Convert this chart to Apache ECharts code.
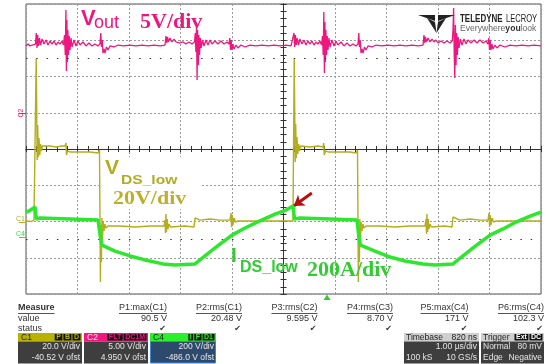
<!DOCTYPE html>
<html>
<head>
<meta charset="utf-8">
<script src="https://cdn.jsdelivr.net/npm/echarts@6/dist/echarts.min.js"></script>
<style>
html, body { margin: 0; padding: 0; background: #fff; }
#scope { width: 553px; height: 364px; }
</style>
</head>
<body>
<div id="scope"></div>
<script>
// time in µs (1 µs/div), values in channel units
var vdsTrace = [[0,0.8],[0.097,0.5],[0.155,1.3],[0.184,0.8],[0.198,90.5],[0.208,62.0],[0.217,34.5],[0.227,53.8],[0.239,36.1],[0.252,46.6],[0.268,37.2],[0.283,43.3],[0.301,39.4],[0.320,42.2],[0.350,41.1],[0.466,42.2],[0.583,41.6],[0.699,42.2],[0.757,42.2],[0.777,43.8],[0.786,37.2],[0.806,39.4],[0.854,38.9],[1.049,38.9],[1.243,38.9],[1.398,38.3],[1.427,40.0],[1.445,-32.9],[1.454,-1.4],[1.464,-21.8],[1.474,2.5],[1.485,-9.7],[1.499,0.2],[1.515,-4.7],[1.534,-0.9],[1.553,-3.1],[1.592,-2.0],[1.825,-2.0],[2.117,-2.5],[2.408,-2.0],[2.680,-2.0],[2.699,1.3],[2.709,-5.8],[2.718,4.6],[2.728,-5.3],[2.742,1.9],[2.757,-3.6],[2.777,-0.9],[2.806,-2.5],[2.835,-2.0],[3.087,-2.0],[3.262,-2.5],[3.282,2.5],[3.301,1.9],[3.379,1.3],[3.573,1.9],[3.767,1.3],[3.961,1.3],[3.981,5.2],[3.992,-2.5],[4.004,4.1],[4.019,-1.4],[4.039,2.5],[4.068,0.2],[4.117,0.8],[4.350,0.8],[4.641,0.8],[4.932,0.8],[5.184,0.8],[5.208,90.5],[5.218,61.0],[5.227,33.4],[5.237,54.3],[5.249,35.6],[5.262,47.1],[5.278,37.8],[5.293,43.3],[5.311,39.4],[5.330,42.2],[5.359,41.1],[5.515,41.6],[5.670,42.2],[5.767,41.6],[5.781,43.8],[5.792,37.2],[5.816,39.4],[5.864,38.9],[6.097,38.9],[6.291,38.9],[6.408,38.3],[6.437,40.0],[6.454,-32.9],[6.464,-2.0],[6.474,-21.8],[6.483,1.9],[6.495,-9.7],[6.509,0.2],[6.524,-4.7],[6.544,-0.9],[6.563,-3.1],[6.602,-2.0],[6.874,-2.0],[7.165,-2.5],[7.456,-2.0],[7.748,-2.0],[7.767,1.9],[7.777,-6.4],[7.786,4.6],[7.798,-5.3],[7.812,1.9],[7.825,-3.6],[7.845,-0.9],[7.874,-2.5],[7.903,-2.0],[8.136,-2.0],[8.272,-2.5],[8.291,3.0],[8.311,1.9],[8.427,1.3],[8.621,1.9],[8.816,1.3],[8.971,1.3],[8.990,5.2],[9.002,-2.5],[9.013,4.1],[9.029,-1.4],[9.049,2.5],[9.078,0.2],[9.126,0.8],[9.398,0.8],[9.689,0.8],[10.0,0.8]];

var voutTrace = [[0.000,9.26],[0.039,9.53],[0.078,9.26],[0.117,9.39],[0.155,9.12],[0.184,9.53],[0.200,11.05],[0.214,8.98],[0.227,10.77],[0.243,9.26],[0.262,10.36],[0.282,9.39],[0.311,10.22],[0.350,9.53],[0.388,10.08],[0.427,9.39],[0.466,9.95],[0.505,9.53],[0.544,9.95],[0.583,9.39],[0.621,9.81],[0.660,9.53],[0.699,9.95],[0.728,9.39],[0.748,10.77],[0.763,8.02],[0.775,14.22],[0.784,5.81],[0.794,12.84],[0.804,7.05],[0.813,11.46],[0.825,8.02],[0.839,10.64],[0.854,8.71],[0.874,10.36],[0.893,9.12],[0.932,10.08],[0.971,9.26],[1.010,9.95],[1.049,9.39],[1.107,9.81],[1.165,9.26],[1.223,9.67],[1.282,9.26],[1.340,9.53],[1.398,9.26],[1.437,9.53],[1.452,11.05],[1.466,9.12],[1.480,10.08],[1.495,8.29],[1.515,8.84],[1.534,8.29],[1.563,9.12],[1.592,8.71],[1.631,9.26],[1.709,9.12],[1.786,9.39],[1.903,9.26],[2.019,9.39],[2.136,9.26],[2.252,9.39],[2.369,9.26],[2.485,9.39],[2.602,9.26],[2.699,9.39],[2.718,10.64],[2.734,9.67],[2.748,10.50],[2.767,9.81],[2.796,10.36],[2.835,9.81],[2.874,10.22],[2.913,9.81],[2.951,10.08],[2.990,9.67],[3.049,9.81],[3.107,9.53],[3.165,9.81],[3.223,9.53],[3.272,9.81],[3.287,11.05],[3.299,8.43],[3.311,11.88],[3.322,4.57],[3.332,11.46],[3.346,6.64],[3.357,10.77],[3.369,8.02],[3.385,10.36],[3.402,8.98],[3.427,10.08],[3.456,9.26],[3.495,10.08],[3.534,9.39],[3.573,10.08],[3.612,9.53],[3.670,9.95],[3.728,9.53],[3.786,9.95],[3.845,9.53],[3.903,9.81],[3.942,9.53],[3.957,10.36],[3.971,8.71],[3.984,10.08],[4.000,8.71],[4.019,9.53],[4.039,8.84],[4.078,9.39],[4.117,8.98],[4.175,9.39],[4.252,9.12],[4.350,9.39],[4.466,9.26],[4.583,9.39],[4.699,9.26],[4.816,9.39],[4.932,9.26],[5.049,9.39],[5.146,9.26],[5.184,9.53],[5.204,11.05],[5.217,9.12],[5.231,10.77],[5.247,9.39],[5.266,10.36],[5.291,9.39],[5.320,10.22],[5.359,9.53],[5.398,10.08],[5.437,9.39],[5.476,9.95],[5.515,9.53],[5.553,9.95],[5.592,9.39],[5.631,9.81],[5.670,9.53],[5.709,9.95],[5.738,9.39],[5.757,10.64],[5.771,8.02],[5.783,13.95],[5.794,5.53],[5.804,12.57],[5.814,7.05],[5.823,11.46],[5.835,8.02],[5.849,10.64],[5.864,8.71],[5.883,10.36],[5.903,9.12],[5.942,10.08],[5.981,9.26],[6.019,9.95],[6.058,9.39],[6.117,9.81],[6.175,9.26],[6.233,9.67],[6.291,9.26],[6.350,9.53],[6.408,9.26],[6.447,9.53],[6.462,11.05],[6.476,9.12],[6.489,10.08],[6.505,8.29],[6.524,8.84],[6.544,8.29],[6.573,9.12],[6.602,8.71],[6.641,9.26],[6.718,9.12],[6.796,9.39],[6.913,9.26],[7.029,9.39],[7.146,9.26],[7.262,9.39],[7.379,9.26],[7.495,9.39],[7.612,9.26],[7.709,9.39],[7.728,10.77],[7.744,9.67],[7.757,10.50],[7.777,9.81],[7.806,10.36],[7.845,9.81],[7.884,10.22],[7.922,9.81],[7.961,10.08],[8.000,9.67],[8.058,9.95],[8.117,9.67],[8.175,9.95],[8.233,9.67],[8.277,9.95],[8.291,11.46],[8.303,14.50],[8.315,8.02],[8.326,4.84],[8.338,12.15],[8.350,6.64],[8.363,11.05],[8.377,8.02],[8.392,10.50],[8.408,8.98],[8.437,10.22],[8.466,9.39],[8.505,10.22],[8.544,9.53],[8.583,10.08],[8.641,9.67],[8.699,10.08],[8.757,9.67],[8.816,10.08],[8.874,9.67],[8.932,9.95],[8.971,9.53],[8.986,10.36],[9.000,8.71],[9.013,10.08],[9.029,8.71],[9.049,9.53],[9.068,8.84],[9.107,9.39],[9.146,8.98],[9.204,9.39],[9.301,9.12],[9.398,9.39],[9.515,9.26],[9.631,9.39],[9.748,9.26],[9.864,9.39],[10.000,9.26]];

var idsTrace = [[0.000,138],[0.058,144],[0.117,155],[0.175,166],[0.190,167],[0.200,100],[0.272,105],[0.854,100],[1.398,94],[1.427,94],[1.447,-5],[1.476,-44],[1.495,-49],[1.728,-77],[2.019,-104],[2.311,-126],[2.660,-148],[2.893,-154],[3.282,-148],[3.476,-104],[3.670,-60],[3.845,-22],[4.000,11],[4.252,50],[4.544,89],[4.835,127],[5.049,149],[5.184,171],[5.200,171],[5.214,100],[5.320,105],[5.903,100],[6.427,94],[6.447,94],[6.466,-5],[6.495,-44],[6.524,-49],[6.777,-77],[7.068,-110],[7.359,-132],[7.709,-148],[7.942,-154],[8.291,-148],[8.485,-104],[8.680,-60],[8.854,-22],[9.010,11],[9.262,45],[9.515,83],[9.786,116],[10.000,138]];

// channel settings: volts per div and offset
var chanNames = ['C1', 'C2', 'C4'];
var chanPerDiv = [20, 5, 200];
var chanOffset = [-40.52, 4.95, -486.0];
var chanScaleText = ['20.0 V/div', '5.00 V/div', '200 V/div'];
var chanOffsetText = ['-40.52 V ofst', '4.950 V ofst', '-486.0 V ofst'];
var chanBadges = [['P', 'B', 'D'], ['FLT', 'DC1M'], ['I', 'F', 'D1']];

var measureNames = ['P1:max(C1)', 'P2:rms(C1)', 'P3:rms(C2)', 'P4:rms(C3)', 'P5:max(C4)', 'P6:rms(C4)'];
var measureValues = ['90.5 V', '20.48 V', '9.595 V', '8.70 V', '171 V', '102.3 V'];

var timebaseRows = [['Timebase', '820 ns'], ['', '1.00 µs/div'], ['100 kS', '10 GS/s']];
var triggerRows = [['Trigger', ''], ['Normal', '80 mV'], ['Edge', 'Negative']];
var triggerBadges = ['Ext', 'DC'];

// dotted guide rows, in divisions from centre
var guideRows = [2.5, -2.5];

// pointer arrow near the current peak (time µs, amps)
var arrowFrom = [5.55, 243];
var arrowTo = [5.20, 172];

var chart = echarts.init(document.getElementById('scope'), null, { renderer: 'canvas' });

var PINK = '#ee167f', OLIVE = '#b3ad1f', GREEN = '#2ee62e';
var FONT = '"Liberation Sans", Arial, sans-serif';
var SERIF = '"Liberation Serif", "Times New Roman", serif';

function chanAxis(i, color, rotate) {
    var lo = -chanOffset[i] - 4 * chanPerDiv[i];
    var hi = -chanOffset[i] + 4 * chanPerDiv[i];
    return {
        type: 'value', min: lo, max: hi, position: 'left',
        axisLine: { show: false, onZero: false },
        splitLine: { show: false },
        axisTick: { show: true, customValues: [0], length: 7, lineStyle: { color: color, width: 1 } },
        axisLabel: {
            show: true, customValues: [0], margin: 1, rotate: rotate,
            formatter: function () { return chanNames[i]; },
            color: color, fontSize: 7, fontFamily: FONT, verticalAlign: 'bottom'
        }
    };
}

var tickStyle = { color: '#333', width: 1 };
function centreX(pos) {
    return {
        type: 'value', min: -5, max: 5, interval: 1, position: pos,
        axisLine: { show: true, onZero: true, onZeroAxisIndex: 0, lineStyle: tickStyle },
        axisTick: { show: true, length: 3, lineStyle: tickStyle },
        minorTick: { show: true, splitNumber: 5, length: 3, lineStyle: tickStyle },
        axisLabel: { show: false },
        splitLine: { show: pos === 'bottom', lineStyle: { color: '#9a9a9a', type: [2, 2], width: 1 } }
    };
}
function centreY(pos) {
    return {
        type: 'value', min: -4, max: 4, interval: 1, position: pos,
        axisLine: { show: true, onZero: true, onZeroAxisIndex: 0, lineStyle: tickStyle },
        axisTick: { show: true, length: 3, lineStyle: tickStyle },
        minorTick: { show: true, splitNumber: 5, length: 3, lineStyle: tickStyle },
        axisLabel: { show: false },
        splitLine: { show: pos === 'left', lineStyle: { color: '#9a9a9a', type: [2, 2], width: 1 } }
    };
}

// ---- decorations: labels, logo, measurement table, channel boxes
var ctx = document.createElement('canvas').getContext('2d');
function textW(s, font) { ctx.font = font; return ctx.measureText(s).width; }

var g = [];
function txt(x, y, s, font, fill, align, extra) {
    var e = {
        type: 'text', x: x, y: y, z: 20,
        style: { text: s, x: 0, y: 0, font: font, fill: fill, textAlign: align || 'left', align: align || 'left', textVerticalAlign: 'middle', verticalAlign: 'middle' }
    };
    if (extra) { for (var k in extra) e[k] = extra[k]; }
    g.push(e);
}
function rect(x, y, w, h, fill, stroke, z) {
    g.push({ type: 'rect', z: z || 15, shape: { x: x, y: y, width: w, height: h }, style: { fill: fill, stroke: stroke || null, lineWidth: 1 } });
}
function line(x1, y1, x2, y2, color, z) {
    g.push({ type: 'line', z: z || 15, shape: { x1: x1, y1: y1, x2: x2, y2: y2 }, style: { stroke: color, lineWidth: 1 } });
}

// trace labels
txt(81, 19, 'V', 'bold 22px ' + FONT, PINK);
txt(94, 23, 'out', '18px ' + FONT, PINK);
txt(140, 22.5, '5V/div', 'bold 22px ' + SERIF, PINK);

rect(101, 157, 99, 52, '#ffffff', null, 1);
txt(105, 168, 'V', 'bold 21px ' + FONT, OLIVE);
txt(121, 181, 'DS_low', 'bold 12px ' + FONT, OLIVE, 'left', { scaleX: 1.3 });
txt(113, 199, '20V/div', 'bold 18px ' + SERIF, '#bcb028', 'left', { scaleX: 1.22 });

txt(231, 256, 'I', 'bold 21px ' + FONT, '#30cc30');
txt(240, 267.5, 'DS_low', 'bold 16px ' + FONT, '#30cc30');
txt(307, 270.5, '200A/div', 'bold 22px ' + SERIF, '#30cc30');

// logo
g.push({ type: 'polygon', z: 20, shape: { points: [[418, 15], [435, 15], [435, 21]] }, style: { fill: '#222' } });
g.push({ type: 'polygon', z: 20, shape: { points: [[455, 15], [438, 15], [438, 21]] }, style: { fill: '#222' } });
g.push({ type: 'polygon', z: 20, shape: { points: [[427, 18], [435, 22], [436.5, 33]] }, style: { fill: '#222' } });
g.push({ type: 'polygon', z: 20, shape: { points: [[446, 18], [438, 22], [436.5, 33]] }, style: { fill: '#222' } });
txt(460, 19, 'TELEDYNE', 'bold 10.5px ' + FONT, '#222', 'left', { scaleX: 0.76 });
txt(506, 19, 'LECROY', '10.5px ' + FONT, '#222', 'left', { scaleX: 0.72 });
g.push({
    type: 'text', x: 460, y: 28.5, z: 20,
    style: {
        text: '{a|Everywhere}{b|you}{a|look}', x: 0, y: 0, verticalAlign: 'middle', textVerticalAlign: 'middle',
        rich: { a: { font: '8.6px ' + FONT, fill: '#666', color: '#666' }, b: { font: 'bold 8.6px ' + FONT, fill: '#333', color: '#333' } }
    }
});

// trigger position marker
g.push({ type: 'polygon', z: 20, shape: { points: [[323.5, 300], [327, 294.5], [330.5, 300]] }, style: { fill: '#2ecc2e' } });

// measurement table
var F9 = '9px ' + FONT;
var colRight = [167, 242, 317.5, 393, 468.5, 544];
txt(18, 307.5, 'Measure', 'bold 9px ' + FONT, '#333');
line(18, 313.5, 18 + textW('Measure', 'bold 9px ' + FONT), 313.5, '#555');
txt(18, 318.5, 'value', F9, '#333');
txt(18, 328.5, 'status', F9, '#333');
for (var i = 0; i < measureNames.length; i++) {
    txt(colRight[i], 307.5, measureNames[i], F9, '#333', 'right');
    line(colRight[i] - textW(measureNames[i], F9), 313.5, colRight[i], 313.5, '#555');
    txt(colRight[i], 318.5, measureValues[i], F9, '#333', 'right');
    txt(colRight[i] - 1, 328.5, '\u2714', '8px "DejaVu Sans"', '#333', 'right');
}

// channel boxes
var boxX = [18, 84, 150], boxW = [64, 64, 66];
var headCol = ['#b8b200', '#f0177f', '#2af02a'];
var headText = ['#222', '#fde', '#222'];
var BOX_Y = 333, HEAD_H = 8.5, BODY_H = 22;
var F8 = '8.5px ' + FONT;
for (var c = 0; c < 3; c++) {
    var x0 = boxX[c], w0 = boxW[c];
    rect(x0, BOX_Y, w0, HEAD_H, headCol[c]);
    if (c === 2) rect(x0 + 0.5, BOX_Y + HEAD_H, w0 - 1, BODY_H - 0.5, '#2d4a6c', '#3f86d8');
    else rect(x0, BOX_Y + HEAD_H, w0, BODY_H, '#3e3e3e');
    txt(x0 + 3, BOX_Y + 4.4, chanNames[c], F8, headText[c]);
    var bx = x0 + w0 - 1.5;
    for (var b = chanBadges[c].length - 1; b >= 0; b--) {
        var bw = textW(chanBadges[c][b], 'bold 7px ' + FONT) + 3;
        bx -= bw;
        rect(bx, BOX_Y + 1, bw, HEAD_H - 2, '#111', null, 16);
        txt(bx + bw / 2, BOX_Y + 4.4, chanBadges[c][b], 'bold 7px ' + FONT, headCol[c], 'center');
        bx -= 1;
    }
    txt(x0 + w0 - 2, BOX_Y + 14, chanScaleText[c], F8, '#e6e6e6', 'right');
    txt(x0 + w0 - 2, BOX_Y + 24.5, chanOffsetText[c], F8, '#e6e6e6', 'right');
}

// timebase and trigger boxes
function infoBox(x0, w0, rows, badges) {
    rect(x0, BOX_Y, w0, HEAD_H, '#cfcfcf');
    rect(x0, BOX_Y + HEAD_H, w0, BODY_H, '#3e3e3e');
    var ys = [BOX_Y + 4.4, BOX_Y + 14, BOX_Y + 24.5];
    for (var r = 0; r < rows.length; r++) {
        var col = r === 0 ? '#222' : '#e6e6e6';
        if (rows[r][0]) txt(x0 + 2, ys[r], rows[r][0], F8, col);
        if (rows[r][1]) txt(x0 + w0 - 2, ys[r], rows[r][1], F8, col, 'right');
    }
    if (badges) {
        var bx = x0 + w0 - 1.5;
        for (var b = badges.length - 1; b >= 0; b--) {
            var bw = textW(badges[b], 'bold 7px ' + FONT) + 3;
            bx -= bw;
            rect(bx, BOX_Y + 1, bw, HEAD_H - 2, '#111', null, 16);
            txt(bx + bw / 2, BOX_Y + 4.4, badges[b], 'bold 7px ' + FONT, '#fff', 'center');
            bx -= 1;
        }
    }
}
infoBox(404, 75, timebaseRows);
infoBox(481, 63, triggerRows, triggerBadges);

var option = {
    animation: false,
    backgroundColor: '#ffffff',
    grid: { left: 26, right: 12, top: 4, bottom: 70, show: true, borderColor: '#555', borderWidth: 1, backgroundColor: 'transparent' },
    xAxis: [centreX('bottom'), centreX('top'), { type: 'value', min: 0, max: 10, show: false }],
    yAxis: [centreY('left'), centreY('right'), chanAxis(0, OLIVE, 0), chanAxis(1, PINK, 90), chanAxis(2, GREEN, 0)],
    graphic: { elements: g },
    series: [
        {
            name: 'rows', type: 'line', xAxisIndex: 0, yAxisIndex: 0, data: [[-5, 0], [5, 0]],
            symbol: 'none', lineStyle: { opacity: 0 }, silent: true, z: 1,
            markLine: {
                silent: true, symbol: 'none', label: { show: false },
                lineStyle: { color: '#333', type: [1.5, 8.8], width: 1.2, opacity: 1 },
                emphasis: { disabled: true },
                data: guideRows.map(function (v) { return [{ coord: [-5, v] }, { coord: [5, v] }]; })
            }
        },
        {
            name: 'C1', type: 'line', xAxisIndex: 2, yAxisIndex: 2, data: vdsTrace,
            symbol: 'none', z: 3, lineStyle: { color: OLIVE, width: 1.4 }
        },
        {
            name: 'C2', type: 'line', xAxisIndex: 2, yAxisIndex: 3, data: voutTrace,
            symbol: 'none', z: 4, lineStyle: { color: PINK, width: 1.3 }
        },
        {
            name: 'C4', type: 'line', xAxisIndex: 2, yAxisIndex: 4, data: idsTrace,
            symbol: 'none', z: 5, lineStyle: { color: GREEN, width: 3.5 },
            markLine: {
                silent: true, symbol: ['none', 'arrow'], symbolSize: [10, 10], label: { show: false },
                lineStyle: { color: '#b50f0f', width: 3, type: 'solid' },
                data: [[{ coord: arrowFrom }, { coord: arrowTo }]]
            }
        }
    ]
};
chart.setOption(option);
</script>
</body>
</html>
